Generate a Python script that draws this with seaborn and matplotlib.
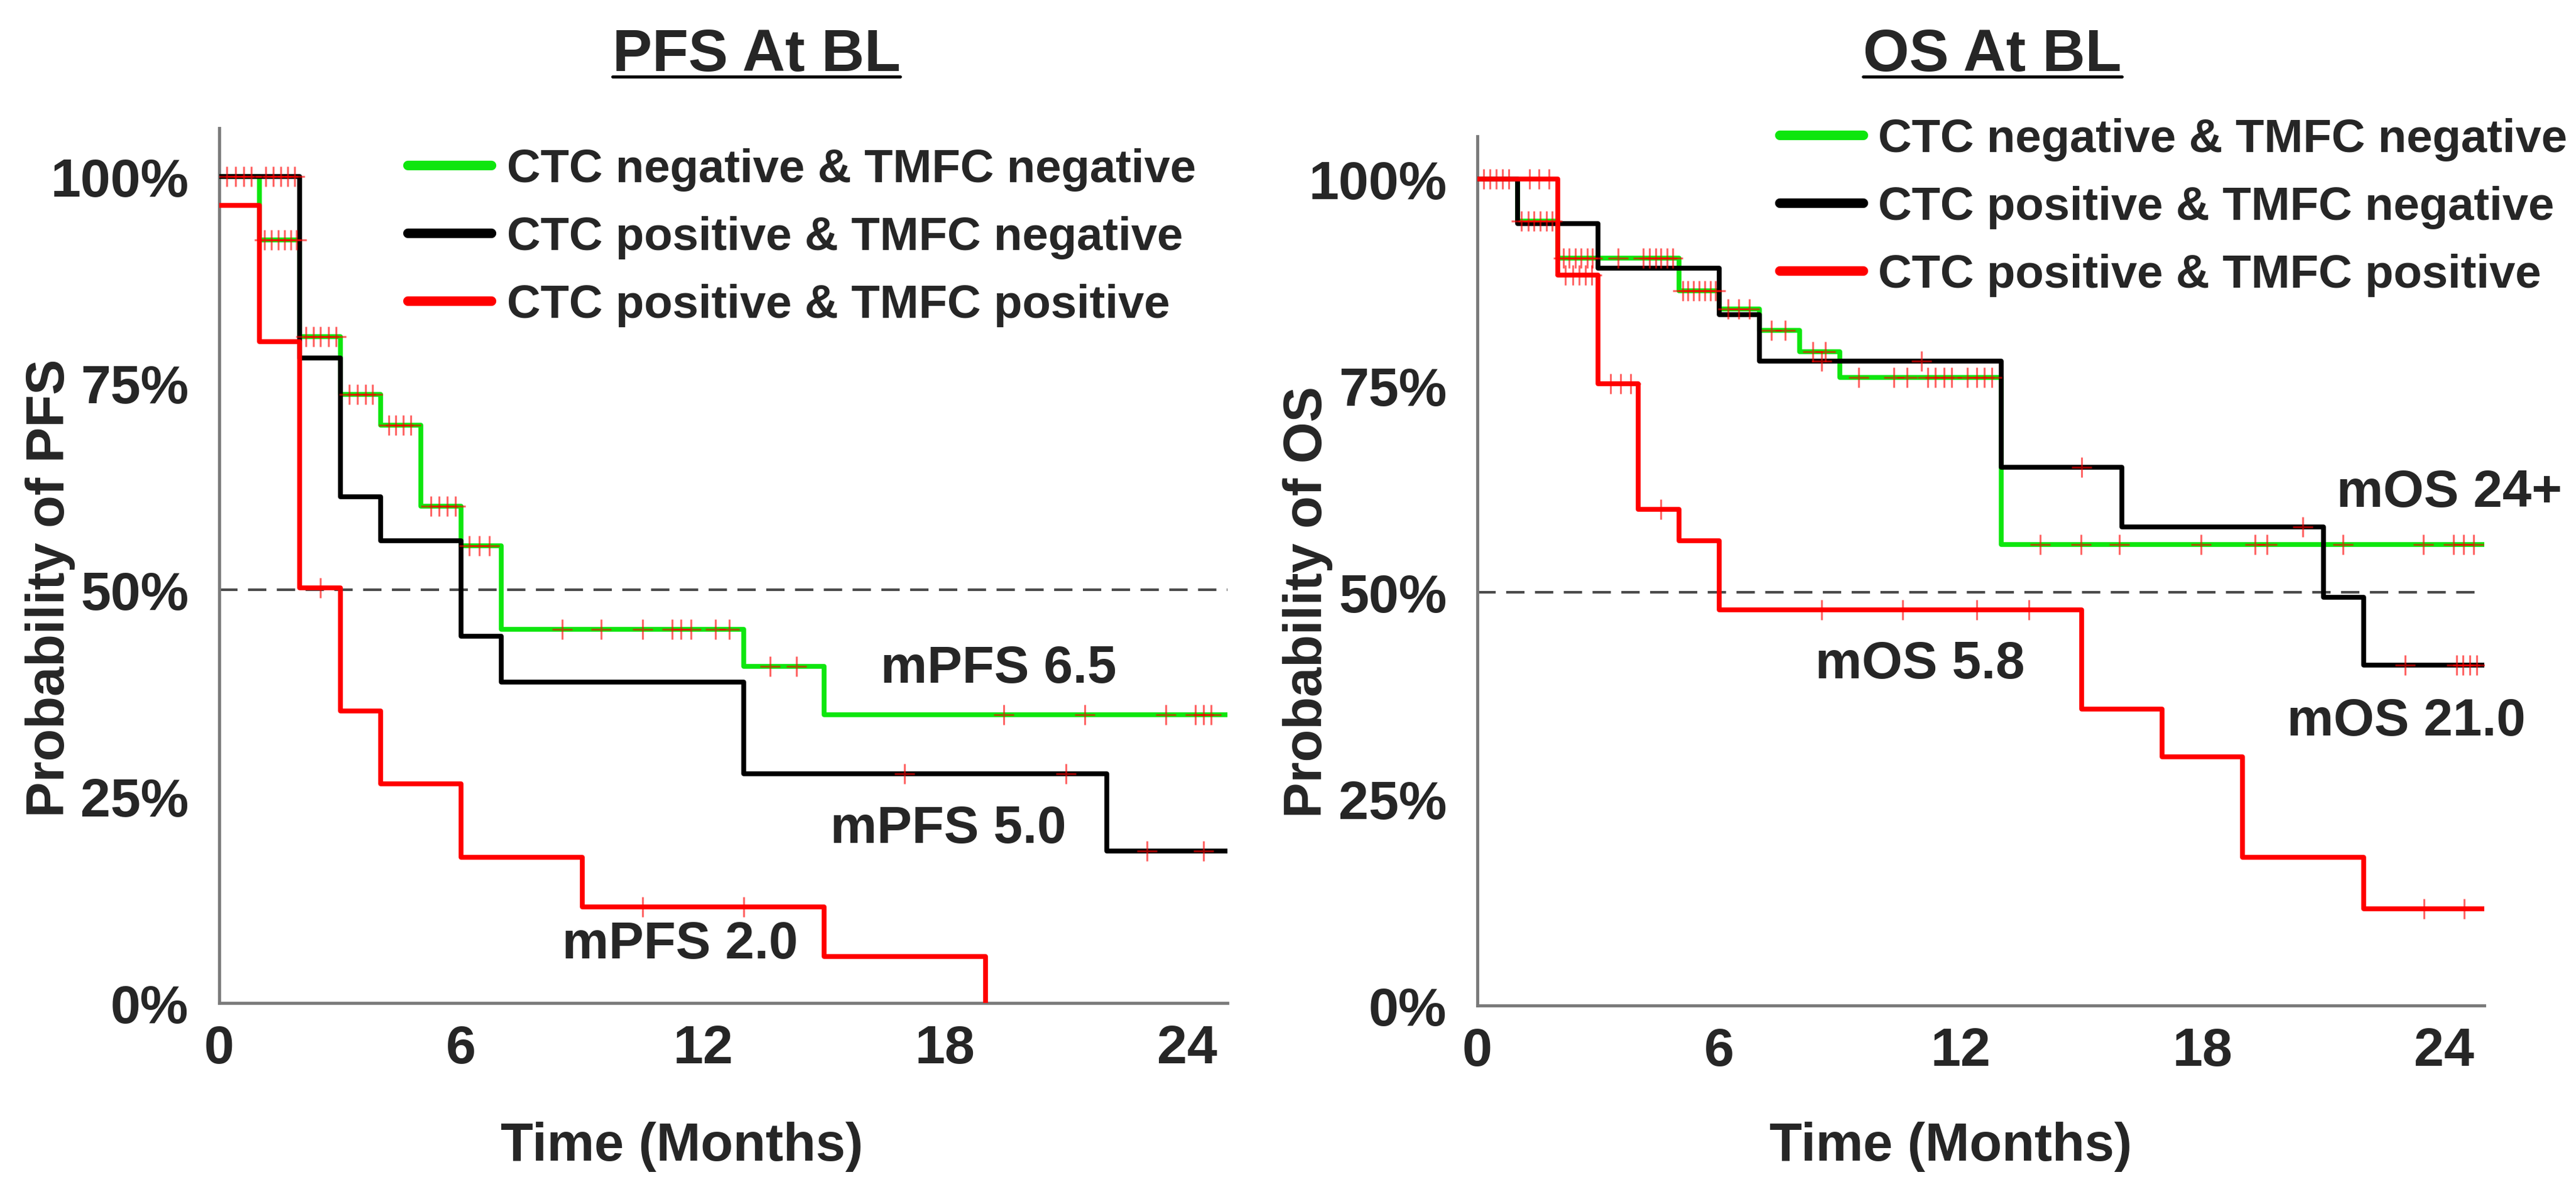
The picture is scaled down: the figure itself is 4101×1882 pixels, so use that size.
import numpy as np
import matplotlib
matplotlib.use("Agg")
import matplotlib.pyplot as plt
from matplotlib.lines import Line2D
import seaborn as sns

# ---- PFS curves: step times (months) and survival fraction ----
pfs_nn_t = [0, 1, 2, 3, 4, 5, 6, 7, 13, 15, 25]
pfs_nn_s = [1.0, 0.923, 0.806, 0.736, 0.699, 0.601, 0.553, 0.452, 0.407, 0.349, 0.349]
pfs_nn_cens = [0.19, 0.4, 0.6, 0.8, 1.12, 1.29, 1.46, 1.62, 1.78, 1.92,
               2.15, 2.34, 2.51, 2.71, 2.9, 3.22, 3.43, 3.63, 3.8,
               4.2, 4.38, 4.57, 4.75, 5.25, 5.45, 5.65, 5.85, 6.2, 6.45, 6.7,
               8.5, 9.47, 10.5, 11.23, 11.45, 11.7, 12.3, 12.65, 13.66, 14.31,
               19.45, 21.46, 23.47, 24.2, 24.4, 24.6]

pfs_pn_t = [0, 2, 3, 4, 6, 7, 13, 22, 25]
pfs_pn_s = [1.0, 0.78, 0.612, 0.559, 0.444, 0.388, 0.277, 0.184, 0.184]
pfs_pn_cens = [1.15, 1.34, 1.53, 1.7, 1.87, 17.0, 21.0, 23.0, 24.4]

pfs_pp_t = [0, 1, 2, 3, 4, 6, 9, 15, 19]
pfs_pp_s = [0.965, 0.80, 0.502, 0.353, 0.265, 0.176, 0.116, 0.056, 0.0]
pfs_pp_cens = [2.5, 10.5, 13.0]

# ---- OS curves ----
os_nn_t = [0, 1, 2, 5, 6, 7, 8, 9, 13, 25]
os_nn_s = [1.0, 0.949, 0.904, 0.865, 0.843, 0.817, 0.791, 0.760, 0.558, 0.558]
os_nn_cens = [0.16, 0.31, 0.47, 0.62, 0.78, 1.1, 1.26, 1.41, 1.56, 1.72, 1.86,
              2.14, 2.28, 2.43, 2.57, 2.73, 2.86, 3.5, 4.12, 4.28, 4.43, 4.56, 4.71, 4.85,
              5.1, 5.23, 5.37, 5.51, 5.64, 5.78, 5.91, 6.22, 6.49, 6.75, 7.3, 7.64,
              8.33, 8.64, 9.47, 10.34, 10.67, 11.18, 11.37, 11.59, 11.78, 12.17, 12.4,
              12.59, 12.77, 13.97, 14.99, 15.94, 17.97, 19.31, 19.6, 21.49, 23.49,
              24.24, 24.49, 24.74]

os_pn_t = [0, 1, 3, 6, 7, 13, 16, 21, 22, 25]
os_pn_s = [1.0, 0.946, 0.892, 0.836, 0.78, 0.651, 0.579, 0.494, 0.412, 0.412]
os_pn_cens = [8.55, 11.03, 15.0, 20.5, 23.03, 24.31, 24.47, 24.64, 24.81]

os_pp_t = [0, 2, 3, 4, 5, 6, 15, 17, 19, 22, 25]
os_pp_s = [1.0, 0.884, 0.752, 0.600, 0.562, 0.479, 0.359, 0.301, 0.179, 0.117, 0.117]
os_pp_cens = [1.3, 1.53, 1.78, 2.18, 2.37, 2.53, 2.68, 2.84, 3.31, 3.56, 3.81,
              4.55, 8.55, 10.56, 12.4, 13.7, 23.5, 24.5]

group_labels = ["CTC negative & TMFC negative",
                "CTC positive & TMFC negative",
                "CTC positive & TMFC positive"]
group_colors = ["#0ee60e", "#000000", "#ff0000"]

x_ticks = [0, 6, 12, 18, 24]
y_ticks = [0, 0.25, 0.5, 0.75, 1.0]
y_tick_labels = ["0%", "25%", "50%", "75%", "100%"]

pfs_medians = ["mPFS 6.5", "mPFS 5.0", "mPFS 2.0"]
pfs_median_x = [19.33, 18.08, 11.43]
pfs_median_y = [0.388, 0.1945, 0.0547]
os_medians = ["mOS 24+", "mOS 21.0", "mOS 5.8"]
os_median_x = [24.13, 23.07, 10.99]
os_median_y = [0.604, 0.3275, 0.397]

sns.set_style("white")
plt.rcParams["font.family"] = ["Liberation Sans", "DejaVu Sans"]
plt.rcParams["font.weight"] = "bold"

fig = plt.figure(figsize=(41.01, 18.83), dpi=100)
ax1 = fig.add_axes([0.0851, 0.1514, 0.3914, 0.7398])
ax2 = fig.add_axes([0.5735, 0.1492, 0.3909, 0.735])


def step_value(t, s, when):
    idx = np.searchsorted(t, when, side="right") - 1
    return np.asarray(s)[idx]


def draw_panel(ax, curves, ytop, medians, mx, my, ylabel):
    ax.axhline(0.5, color="#4a4a4a", lw=3, dashes=(7, 4), zorder=1)
    for (t, s, cens), color in zip(curves, group_colors):
        sns.lineplot(x=t, y=s, ax=ax, color=color, lw=5.5, estimator=None,
                     sort=False, drawstyle="steps-post", zorder=3)
    for (t, s, cens), color in zip(curves, group_colors):
        sns.scatterplot(x=cens, y=step_value(t, s, cens), ax=ax, marker="+",
                        s=560, color="red", linewidth=2.2, alpha=0.6,
                        zorder=5, legend=False)
    for txt, x, y in zip(medians, mx, my):
        ax.text(x, y, txt, ha="center", va="baseline", fontsize=60,
                fontweight="bold")
    ax.set_xlim(0, 25)
    ax.set_ylim(0, ytop)
    ax.set_xticks(x_ticks)
    ax.set_xticklabels([str(v) for v in x_ticks])
    ax.set_yticks(y_ticks)
    ax.set_yticklabels(y_tick_labels)
    ax.tick_params(axis="x", direction="in", length=8, width=2,
                   color="#707070", labelsize=62, pad=24)
    ax.tick_params(axis="y", direction="in", length=8, width=2,
                   color="#707070", labelsize=62, pad=35)
    for lab in ax.get_xticklabels() + ax.get_yticklabels():
        lab.set_fontweight("bold")
    sns.despine(ax=ax)
    for side in ["left", "bottom"]:
        ax.spines[side].set_color("#7a7a7a")
        ax.spines[side].set_linewidth(3.5)
    ax.set_xlabel("Time (Months)", fontsize=61, fontweight="bold")
    ax.set_ylabel(ylabel, fontsize=61, fontweight="bold")


pfs_curves = [(pfs_nn_t, pfs_nn_s, pfs_nn_cens),
              (pfs_pn_t, pfs_pn_s, pfs_pn_cens),
              (pfs_pp_t, pfs_pp_s, pfs_pp_cens)]
os_curves = [(os_nn_t, os_nn_s, os_nn_cens),
             (os_pn_t, os_pn_s, os_pn_cens),
             (os_pp_t, os_pp_s, os_pp_cens)]

draw_panel(ax1, pfs_curves, 1.0585, pfs_medians, pfs_median_x, pfs_median_y,
           "Probability of PFS")
draw_panel(ax2, os_curves, 1.0517, os_medians, os_median_x, os_median_y,
           "Probability of OS")

ax1.xaxis.set_label_coords(0.459, -0.135)
ax2.xaxis.set_label_coords(0.47, -0.133)
ax1.yaxis.set_label_coords(-0.1427, 0.475)
ax2.yaxis.set_label_coords(-0.1435, 0.465)

# legends
handles = [Line2D([], [], color=c, lw=11) for c in group_colors]
for anchor in [(0.1583, 0.8749), (0.6908, 0.9004)]:
    fig.legend(handles, group_labels, loc="upper left", bbox_to_anchor=anchor,
               frameon=False, handlelength=1.79, handletextpad=0.33,
               labelspacing=0.53, borderpad=0, borderaxespad=0,
               prop={"weight": "bold", "size": 53.5})

# titles with underline
titles = []
for txt, x in [("PFS At BL", 0.2936), ("OS At BL", 0.7735)]:
    titles.append(fig.text(x, 0.94, txt, ha="center", va="baseline",
                           fontsize=68, fontweight="bold"))
fig.canvas.draw()
renderer = fig.canvas.get_renderer()
for t in titles:
    bb = t.get_window_extent(renderer).transformed(fig.transFigure.inverted())
    fig.add_artist(Line2D([bb.x0, bb.x1], [0.9347, 0.9347], color="black",
                          lw=3.5, transform=fig.transFigure))

fig.savefig("out.png", dpi=100)
